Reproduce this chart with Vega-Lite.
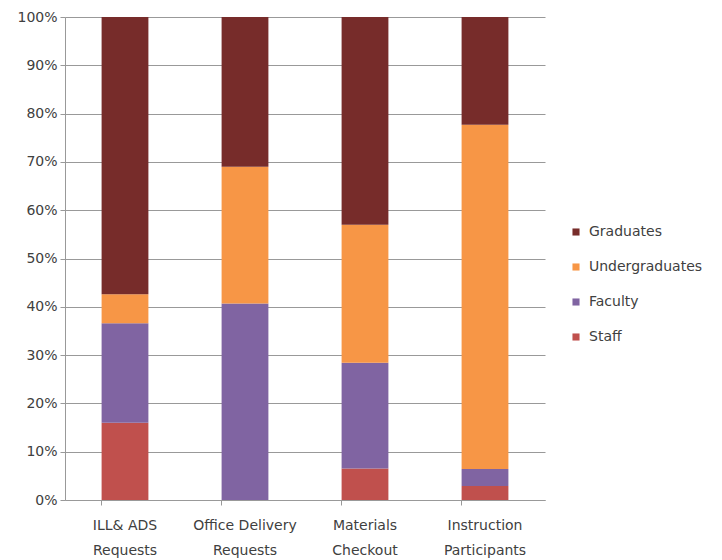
{
  "$schema": "https://vega.github.io/schema/vega-lite/v6.json",
  "width": 480,
  "height": 483,
  "autosize": {"type": "none"},
  "padding": {"left": 65, "top": 17, "right": 177, "bottom": 60},
  "background": "white",
  "data": {
    "values": [
      {"category": "ILL& ADS Requests", "group": "Staff", "value": 16.0},
      {"category": "ILL& ADS Requests", "group": "Faculty", "value": 20.6},
      {"category": "ILL& ADS Requests", "group": "Undergraduates", "value": 6.0},
      {"category": "ILL& ADS Requests", "group": "Graduates", "value": 57.4},
      {"category": "Office Delivery Requests", "group": "Staff", "value": 0},
      {"category": "Office Delivery Requests", "group": "Faculty", "value": 40.7},
      {"category": "Office Delivery Requests", "group": "Undergraduates", "value": 28.3},
      {"category": "Office Delivery Requests", "group": "Graduates", "value": 31.0},
      {"category": "Materials Checkout", "group": "Staff", "value": 6.5},
      {"category": "Materials Checkout", "group": "Faculty", "value": 21.9},
      {"category": "Materials Checkout", "group": "Undergraduates", "value": 28.6},
      {"category": "Materials Checkout", "group": "Graduates", "value": 43.0},
      {"category": "Instruction Participants", "group": "Staff", "value": 2.9},
      {"category": "Instruction Participants", "group": "Faculty", "value": 3.5},
      {"category": "Instruction Participants", "group": "Undergraduates", "value": 71.3},
      {"category": "Instruction Participants", "group": "Graduates", "value": 22.3}
    ]
  },
  "mark": {"type": "bar"},
  "encoding": {
    "x": {
      "field": "category",
      "type": "nominal",
      "sort": null,
      "scale": {"paddingInner": 0.61, "paddingOuter": 0.305},
      "axis": {
        "title": null,
        "labelAngle": 0,
        "bandPosition": 0,
        "labelExpr": "[slice(datum.label, 0, lastindexof(datum.label, ' ')), slice(datum.label, lastindexof(datum.label, ' ') + 1)]",
        "labelLineHeight": 25,
        "labelPadding": 13,
        "labelFont": "DejaVu Sans",
        "labelFontSize": 14,
        "labelColor": "#404040",
        "domainColor": "#999999",
        "tickColor": "#999999",
        "tickSize": 5,
        "grid": false
      }
    },
    "y": {
      "field": "value",
      "type": "quantitative",
      "stack": "normalize",
      "scale": {"domain": [0, 1]},
      "axis": {
        "title": null,
        "format": ".0%",
        "values": [0, 0.1, 0.2, 0.3, 0.4, 0.5, 0.6, 0.7, 0.8, 0.9, 1],
        "labelFont": "DejaVu Sans",
        "labelFontSize": 14,
        "labelColor": "#404040",
        "labelPadding": 3,
        "tickSize": 5,
        "tickColor": "#999999",
        "domainColor": "#999999",
        "grid": true,
        "gridColor": "#999999",
        "gridWidth": 1.2
      }
    },
    "color": {
      "field": "group",
      "type": "nominal",
      "scale": {
        "domain": ["Graduates", "Undergraduates", "Faculty", "Staff"],
        "range": ["#772C2A", "#F79646", "#8064A2", "#C0504D"]
      },
      "legend": {
        "title": null,
        "orient": "none",
        "legendX": 504,
        "legendY": 208,
        "symbolType": "square",
        "symbolSize": 50,
        "symbolStrokeWidth": 0,
        "labelFont": "DejaVu Sans",
        "labelFontSize": 14,
        "labelColor": "#404040",
        "labelOffset": 6,
        "rowPadding": 21
      }
    },
    "order": {"field": "order", "type": "quantitative"}
  },
  "transform": [
    {"calculate": "indexof(['Staff','Faculty','Undergraduates','Graduates'], datum.group)", "as": "order"}
  ],
  "config": {"view": {"stroke": null}}
}
